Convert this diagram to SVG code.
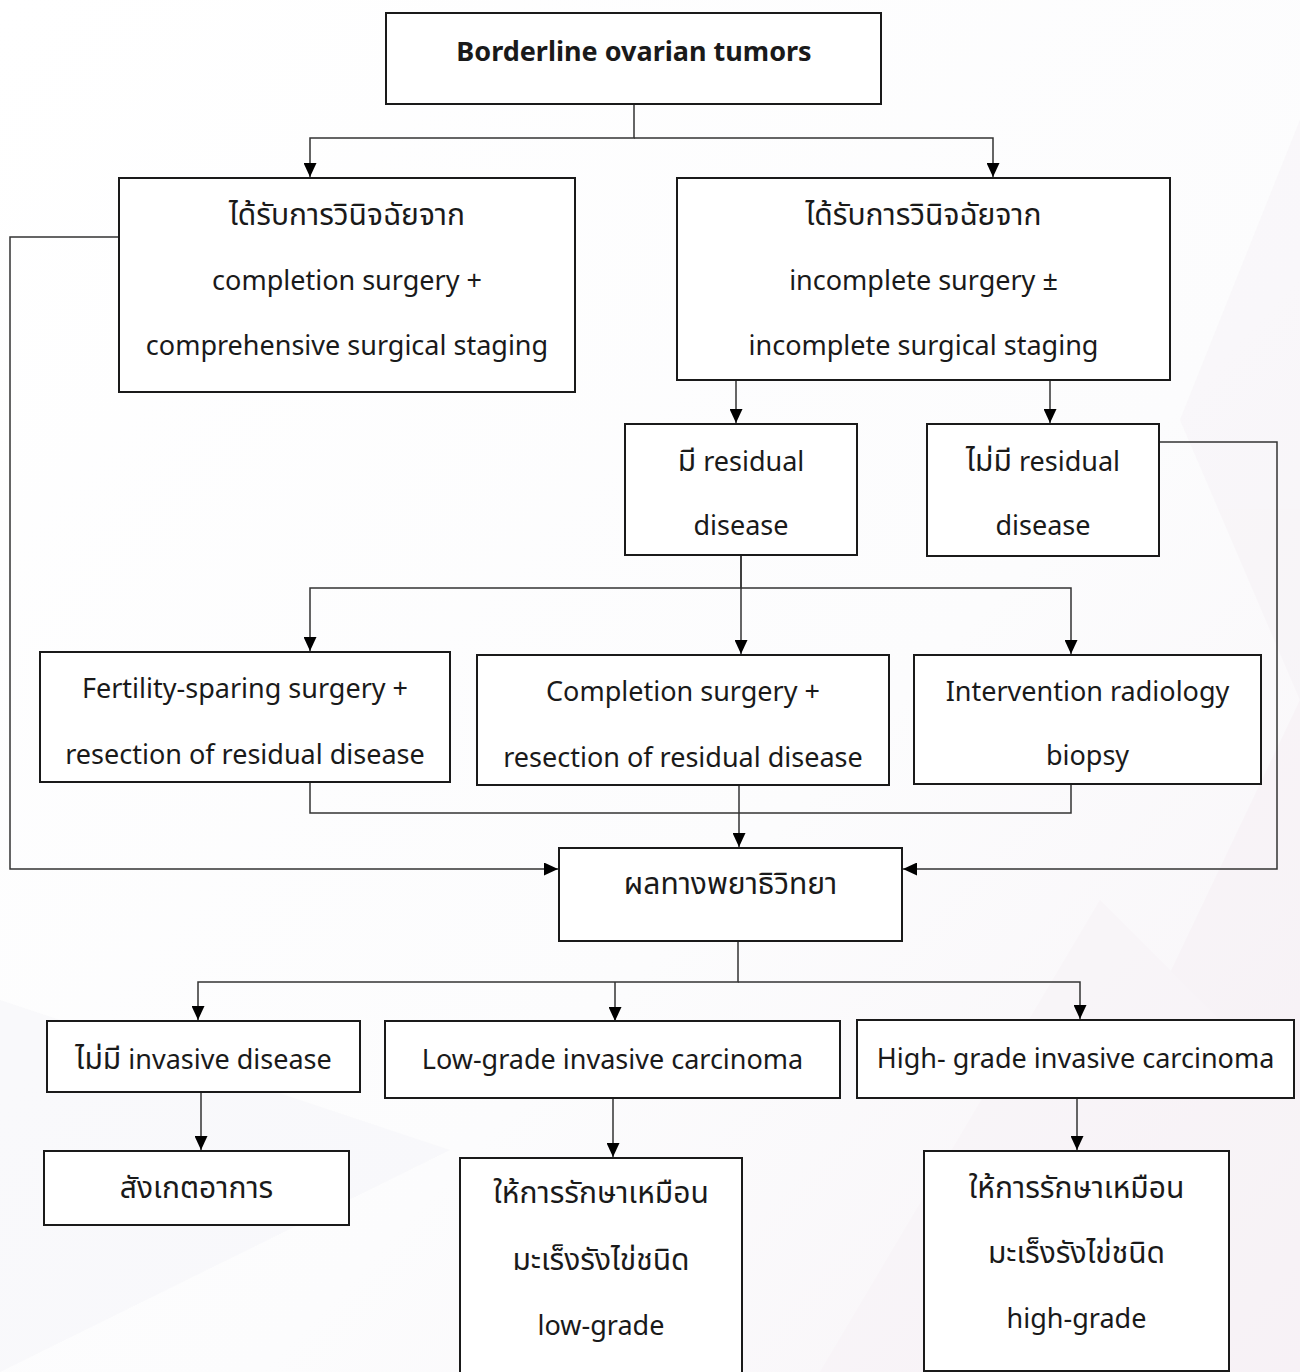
<svg xmlns="http://www.w3.org/2000/svg" width="1300" height="1372" viewBox="0 0 1300 1372">
  <style>
    .box { fill: #ffffff; stroke: #1a1a1a; stroke-width: 2; }
    .lbl { font-family: "Noto Sans", "Noto Sans Thai", "DejaVu Sans", sans-serif; font-size: 27px; fill: #1a1a1a; text-anchor: middle; }
    .th { font-size: 30px; }
    .ttl { font-weight: bold; font-size: 27px; }
    .con { fill: none; stroke: #333333; stroke-width: 1.5; }
    .arr { marker-end: url(#head); }
  </style>
  <defs>
    <marker id="head" markerUnits="userSpaceOnUse" markerWidth="14" markerHeight="13" refX="14" refY="6.5" orient="auto">
      <path d="M0,0 L14,6.5 L0,13 z" fill="#000000"/>
    </marker>
    <linearGradient id="bg" x1="0" y1="0" x2="1" y2="1">
      <stop offset="0" stop-color="#ffffff"/>
      <stop offset="0.6" stop-color="#fcfcfd"/>
      <stop offset="1" stop-color="#f7f3f7"/>
    </linearGradient>
  </defs>

  <!-- page background with faint geometric shading -->
  <rect width="1300" height="1372" fill="url(#bg)"/>
  <g opacity="0.35">
    <polygon points="1300,120 1180,420 1300,700" fill="#f4eef3"/>
    <polygon points="1300,700 980,1372 1300,1372" fill="#f5ecf2"/>
    <polygon points="820,1372 1100,900 1300,1100 1300,1372" fill="#f7f0f5"/>
    <polygon points="0,1000 450,1150 0,1372" fill="#f1f1f5"/>
  </g>

  <!-- connectors -->
  <g id="connectors">
    <path class="con arr" d="M634 104 V138 H310 V177"/>
    <path class="con arr" d="M634 138 H993 V177"/>
    <path class="con arr" d="M119 237 H10 V869 H558"/>
    <path class="con arr" d="M736 380 V423"/>
    <path class="con arr" d="M1050 380 V423"/>
    <path class="con arr" d="M1159 442 H1277 V869 H903"/>
    <path class="con arr" d="M741 555 V588 H310 V651"/>
    <path class="con arr" d="M741 555 V654"/>
    <path class="con arr" d="M741 588 H1071 V654"/>
    <path class="con" d="M310 782 V813 H1071 V784"/>
    <path class="con arr" d="M739 785 V847"/>
    <path class="con arr" d="M738 941 V982 H198 V1020"/>
    <path class="con arr" d="M738 982 H1080 V1019"/>
    <path class="con arr" d="M615 982 V1021"/>
    <path class="con arr" d="M201 1092 V1150"/>
    <path class="con arr" d="M613 1098 V1157"/>
    <path class="con arr" d="M1077 1098 V1150"/>
  </g>

  <g id="n-title">
    <rect class="box" x="386" y="13" width="495" height="91"/>
    <text class="lbl ttl" x="634" y="61">Borderline ovarian tumors</text>
  </g>

  <g id="n-complete">
    <rect class="box" x="119" y="178" width="456" height="214"/>
    <text class="lbl th" x="347" y="225">ได้รับการวินิจฉัยจาก</text>
    <text class="lbl" x="347" y="290">completion surgery +</text>
    <text class="lbl" x="347" y="355">comprehensive surgical staging</text>
  </g>

  <g id="n-incomplete">
    <rect class="box" x="677" y="178" width="493" height="202"/>
    <text class="lbl th" x="923.5" y="225">ได้รับการวินิจฉัยจาก</text>
    <text class="lbl" x="923.5" y="290">incomplete surgery ±</text>
    <text class="lbl" x="923.5" y="355">incomplete surgical staging</text>
  </g>

  <g id="n-residual">
    <rect class="box" x="625" y="424" width="232" height="131"/>
    <text class="lbl" x="741" y="471"><tspan class="th">มี</tspan> residual</text>
    <text class="lbl" x="741" y="535">disease</text>
  </g>

  <g id="n-no-residual">
    <rect class="box" x="927" y="424" width="232" height="132"/>
    <text class="lbl" x="1043" y="471"><tspan class="th">ไม่มี</tspan> residual</text>
    <text class="lbl" x="1043" y="535">disease</text>
  </g>

  <g id="n-fertility">
    <rect class="box" x="40" y="652" width="410" height="130"/>
    <text class="lbl" x="245" y="698">Fertility-sparing surgery +</text>
    <text class="lbl" x="245" y="764">resection of residual disease</text>
  </g>

  <g id="n-completion">
    <rect class="box" x="477" y="655" width="412" height="130"/>
    <text class="lbl" x="683" y="701">Completion surgery +</text>
    <text class="lbl" x="683" y="767">resection of residual disease</text>
  </g>

  <g id="n-radiology">
    <rect class="box" x="914" y="655" width="347" height="129"/>
    <text class="lbl" x="1087.5" y="701">Intervention radiology</text>
    <text class="lbl" x="1087.5" y="765">biopsy</text>
  </g>

  <g id="n-pathology">
    <rect class="box" x="559" y="848" width="343" height="93"/>
    <text class="lbl th" x="730.5" y="894">ผลทางพยาธิวิทยา</text>
  </g>

  <g id="n-no-invasive">
    <rect class="box" x="47" y="1021" width="313" height="71"/>
    <text class="lbl" x="203.5" y="1069"><tspan class="th">ไม่มี</tspan> invasive disease</text>
  </g>

  <g id="n-low-grade">
    <rect class="box" x="385" y="1021" width="455" height="77"/>
    <text class="lbl" x="612.5" y="1069">Low-grade invasive carcinoma</text>
  </g>

  <g id="n-high-grade">
    <rect class="box" x="857" y="1020" width="437" height="78"/>
    <text class="lbl" x="1075.5" y="1068">High- grade invasive carcinoma</text>
  </g>

  <g id="n-observe">
    <rect class="box" x="44" y="1151" width="305" height="74"/>
    <text class="lbl th" x="196.5" y="1198">สังเกตอาการ</text>
  </g>

  <g id="n-treat-low">
    <rect class="box" x="460" y="1158" width="282" height="220"/>
    <text class="lbl th" x="601" y="1203">ให้การรักษาเหมือน</text>
    <text class="lbl th" x="601" y="1270">มะเร็งรังไข่ชนิด</text>
    <text class="lbl" x="601" y="1335">low-grade</text>
  </g>

  <g id="n-treat-high">
    <rect class="box" x="924" y="1151" width="305" height="220"/>
    <text class="lbl th" x="1076.5" y="1198">ให้การรักษาเหมือน</text>
    <text class="lbl th" x="1076.5" y="1263">มะเร็งรังไข่ชนิด</text>
    <text class="lbl" x="1076.5" y="1328">high-grade</text>
  </g>
</svg>
